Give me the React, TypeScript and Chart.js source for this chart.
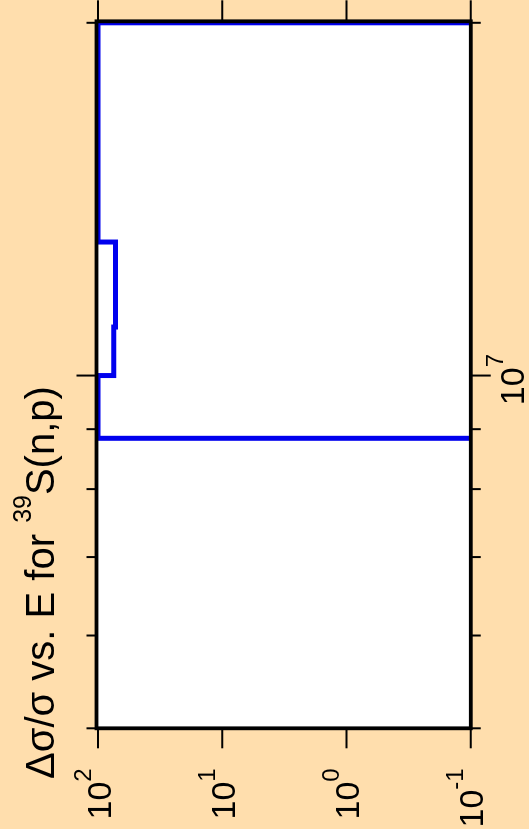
import React, { useEffect, useRef } from 'react';
import { Chart, registerables } from 'chart.js';

Chart.register(...registerables);

// ---- data ----
const energyEV = [8.84e6, 8.84e6, 1.0e7, 1.0e7, 1.1e7, 1.1e7, 1.3e7, 1.3e7, 2.0e7, 2.0e7];
const relUncertaintyPct = [0.01, 100, 100, 74.7, 74.7, 72.4, 72.4, 100, 100, 0.01];

const xAxisMin = 5e6;
const xAxisMax = 2e7;
const yAxisMin = 0.1;
const yAxisMax = 100;

const yTickValues = [100, 10, 1, 0.1];
const yTickExponents = ['2', '1', '0', '-1'];
const xMajorTickValues = [1e7];
const xMajorTickExponents = ['7'];
const xMinorTickValues = [5e6, 6e6, 7e6, 8e6, 9e6, 2e7];

const titleMain = 'Δσ/σ vs. E for ';
const titleSup = '39';
const titleEnd = 'S(n,p)';

// ---- style ----
const FONT = '"Liberation Sans", Arial, Helvetica, sans-serif';
const BG = '#FFDEAD';
const W = 829;
const H = 529;

function drawPow(
  ctx: CanvasRenderingContext2D,
  base: string,
  exp: string,
  x: number,
  baseline: number,
  align: 'right' | 'center',
  baseSize: number,
  supSize: number,
  rise: number
) {
  ctx.font = `${baseSize}px ${FONT}`;
  const wb = ctx.measureText(base).width;
  ctx.font = `${supSize}px ${FONT}`;
  const we = ctx.measureText(exp).width;
  const total = wb + we;
  const x0 = align === 'right' ? x - total : x - total / 2;
  ctx.textAlign = 'left';
  ctx.textBaseline = 'alphabetic';
  ctx.fillStyle = '#000';
  ctx.font = `${baseSize}px ${FONT}`;
  ctx.fillText(base, x0, baseline);
  ctx.font = `${supSize}px ${FONT}`;
  ctx.fillText(exp, x0 + wb, baseline - rise);
}

const decorPlugin = {
  id: 'decor',
  beforeDraw(chart: any) {
    const { ctx, chartArea: a } = chart;
    ctx.save();
    ctx.fillStyle = BG;
    ctx.fillRect(0, 0, chart.width, chart.height);
    ctx.fillStyle = '#ffffff';
    ctx.fillRect(a.left, a.top - 1.5, a.right + 1.5 - a.left, a.bottom - a.top + 1.5);
    ctx.restore();
  },
  afterDatasetsDraw(chart: any) {
    const { ctx, chartArea: a } = chart;
    const xs = chart.scales.x;
    const ys = chart.scales.y;
    const fTop = a.top - 1.5;
    const fRight = a.right + 1.5;
    ctx.save();
    ctx.strokeStyle = '#000';
    ctx.lineWidth = 3.8;
    ctx.strokeRect(a.left, fTop, fRight - a.left, a.bottom - fTop);

    ctx.lineWidth = 2;
    ctx.beginPath();
    // y ticks (major, both sides)
    yTickValues.forEach((v) => {
      const p = ys.getPixelForValue(v);
      ctx.moveTo(a.left, p);
      ctx.lineTo(a.left - 20, p);
      ctx.moveTo(fRight, p);
      ctx.lineTo(fRight + 21, p);
    });
    // x major ticks
    xMajorTickValues.forEach((v) => {
      const p = xs.getPixelForValue(v);
      ctx.moveTo(p, fTop);
      ctx.lineTo(p, fTop - 20);
      ctx.moveTo(p, a.bottom);
      ctx.lineTo(p, a.bottom + 20);
    });
    // x minor ticks
    xMinorTickValues.forEach((v) => {
      const p = xs.getPixelForValue(v);
      ctx.moveTo(p, fTop);
      ctx.lineTo(p, fTop - 10);
      ctx.moveTo(p, a.bottom);
      ctx.lineTo(p, a.bottom + 10);
    });
    ctx.stroke();

    // tick labels
    yTickValues.forEach((v, i) => {
      const p = ys.getPixelForValue(v);
      drawPow(ctx, '10', yTickExponents[i], a.left - 40, p + 12.5, 'right', 34, 24, 20);
    });
    xMajorTickValues.forEach((v, i) => {
      const p = xs.getPixelForValue(v);
      drawPow(ctx, '10', xMajorTickExponents[i], p - 4, a.bottom + 53, 'center', 34, 24, 21);
    });

    // title
    ctx.fillStyle = '#000';
    ctx.textAlign = 'left';
    ctx.textBaseline = 'alphabetic';
    ctx.font = `40px ${FONT}`;
    const tx = 50;
    const tb = 54;
    ctx.fillText(titleMain, tx, tb);
    const w1 = ctx.measureText(titleMain).width;
    ctx.font = `25px ${FONT}`;
    ctx.fillText(titleSup, tx + w1, tb - 23);
    const w2 = ctx.measureText(titleSup).width;
    ctx.font = `40px ${FONT}`;
    ctx.fillText(titleEnd, tx + w1 + w2, tb);
    ctx.restore();
  },
};

export default function App() {
  const ref = useRef<HTMLCanvasElement | null>(null);

  useEffect(() => {
    if (!ref.current) return;
    const points = energyEV.map((e, i) => ({ x: e, y: relUncertaintyPct[i] }));
    const chart = new Chart(ref.current, {
      type: 'line',
      data: {
        datasets: [
          {
            data: points,
            borderColor: '#0000ee',
            borderWidth: 5,
            pointRadius: 0,
            tension: 0,
            fill: false,
          },
        ],
      },
      options: {
        animation: false,
        responsive: false,
        devicePixelRatio: 1,
        layout: { padding: { left: 100.7, right: 22.8, top: 98, bottom: 58.2 } },
        plugins: { legend: { display: false }, tooltip: { enabled: false } },
        scales: {
          x: { type: 'logarithmic', min: xAxisMin, max: xAxisMax, display: false },
          y: { type: 'logarithmic', min: yAxisMin, max: yAxisMax, display: false },
        },
      },
      plugins: [decorPlugin],
    } as any);
    return () => chart.destroy();
  }, []);

  return (
    <div
      style={{
        position: 'fixed',
        left: 0,
        top: 0,
        width: 529,
        height: 829,
        background: BG,
        overflow: 'hidden',
      }}
    >
      <div
        style={{
          position: 'absolute',
          left: 0,
          top: 0,
          width: W,
          height: H,
          transformOrigin: '0 0',
          transform: `translateY(${W}px) rotate(-90deg)`,
        }}
      >
        <canvas ref={ref} width={W} height={H} style={{ display: 'block', width: W, height: H }} />
      </div>
    </div>
  );
}
